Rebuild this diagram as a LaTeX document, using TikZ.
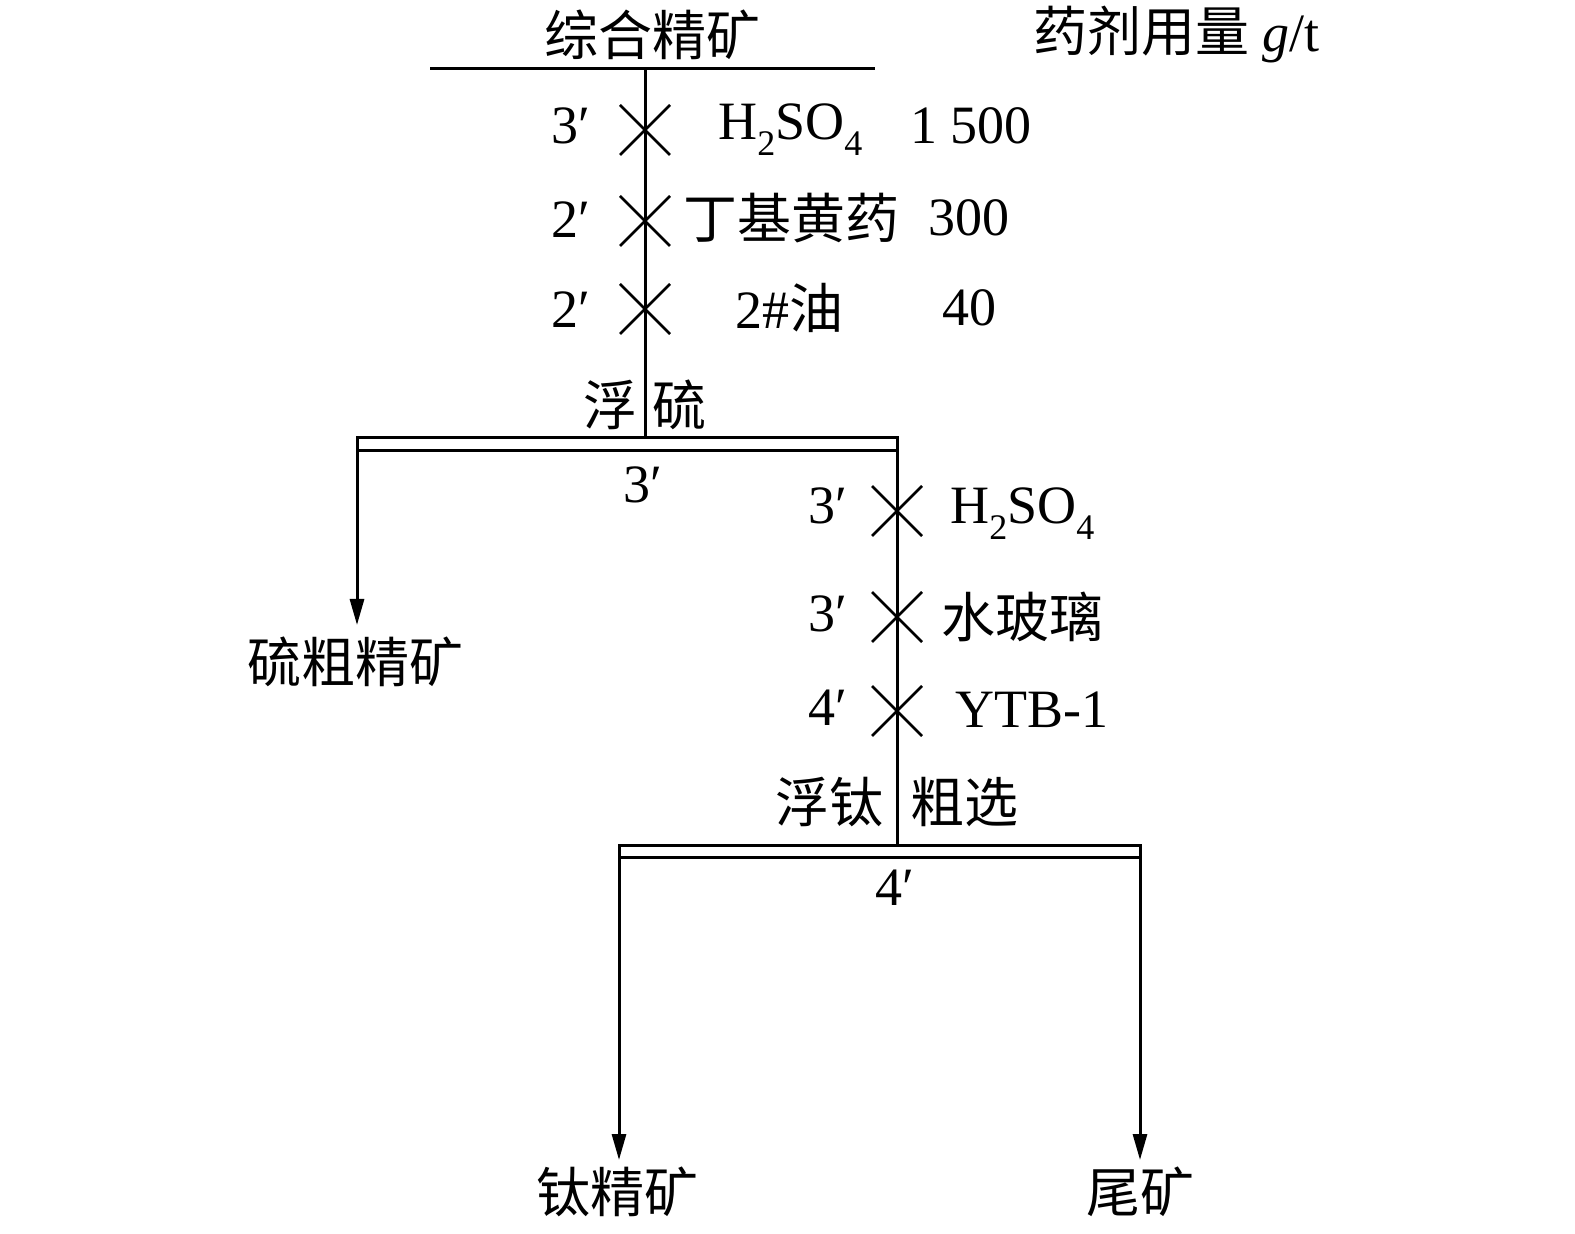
\documentclass[tikz,border=0pt]{standalone}
\usepackage{fontspec}
\setmainfont{Liberation Serif}
\newfontfamily\cjk{Noto Sans CJK SC}
\usetikzlibrary{arrows.meta,calc}
\newcommand\zh[1]{{\cjk #1}}
\newcommand\sbs[1]{\raisebox{-0.3em}{\fontsize{18pt}{18pt}\selectfont #1}}
\newcommand\hso{H\sbs{2}SO\sbs{4}}
\tikzset{
  lbl/.style={inner sep=0pt, font=\fontsize{27pt}{30pt}\selectfont},
  cn/.style={lbl, font=\cjk\fontsize{27pt}{30pt}\selectfont},
  flow/.style={line width=1.5pt},
  arr/.style={flow, -{Triangle[length=13pt,width=7pt]}},
  xmark/.style={line width=1.3pt}
}
\begin{document}
\begin{tikzpicture}[x=0.5pt,y=-0.5pt]
\useasboundingbox (0,0) rectangle (1575,1234);
% feed
\node[cn] (feed) at (652,35) {综合精矿};
\node[lbl, anchor=west] (reag) at (1033,35) {\zh{药剂用量} \textit{g}/t};
\coordinate (tl) at (430,69);
\coordinate (tr) at (875,69);
\coordinate (top) at (645,69);
\draw[flow] (tl) -- (tr);
% sulfur flotation bar
\coordinate (b1tl) at (357,438);
\coordinate (b1br) at (897,451);
\coordinate (b1top) at (645,438);
\draw[flow] (top) -- (b1top);
\draw[flow] (b1tl) rectangle (b1br);
% reagent additions 1
\foreach \n/\y in {xa/130, xb/221, xc/309}{
  \coordinate (\n) at (645,\y);
  \draw[xmark] ($(\n)+(-25,-25)$) -- ($(\n)+(25,25)$);
  \draw[xmark] ($(\n)+(-25,25)$) -- ($(\n)+(25,-25)$);
}
\node[lbl] (ta) at (571,126) {3′};
\node[lbl] (tb) at (571,220) {2′};
\node[lbl] (tc) at (571,310) {2′};
\node[lbl, anchor=west] (ra) at (718,130) {\hso};
\node[lbl, anchor=west] (qa) at (910,126) {1 500};
\node[cn, anchor=west] (rb) at (683,218) {丁基黄药};
\node[lbl, anchor=west] (qb) at (928,218) {300};
\node[lbl, anchor=west] (rc) at (735,308) {2\#\zh{油}};
\node[lbl, anchor=west] (qc) at (942,308) {40};
\node[cn] (fl1) at (610,405) {浮};
\node[cn] (fl2) at (679,405) {硫};
\node[lbl] (t1) at (643,485) {3′};
% left branch
\coordinate (b1l) at (357,451);
\node[cn] (sconc) at (355,662) {硫粗精矿};
\draw[arr] (b1l) -- (357,625);
% right branch
\coordinate (b1r) at (897,438);
\coordinate (b2top) at (897,846);
\draw[flow] (b1r) -- (b2top);
\foreach \n/\y in {xd/511, xe/617, xf/711}{
  \coordinate (\n) at (897,\y);
  \draw[xmark] ($(\n)+(-25,-25)$) -- ($(\n)+(25,25)$);
  \draw[xmark] ($(\n)+(-25,25)$) -- ($(\n)+(25,-25)$);
}
\node[lbl] (td) at (828,506) {3′};
\node[lbl] (te) at (828,614) {3′};
\node[lbl] (tf) at (828,708) {4′};
\node[lbl, anchor=west] (rd) at (950,514) {\hso};
\node[cn, anchor=west] (re) at (941,617) {水玻璃};
\node[lbl, anchor=west] (rf) at (955,710) {YTB-1};
\node[cn] (fl3) at (829,802) {浮钛};
\node[cn] (fl4) at (964,802) {粗选};
% titanium bar
\coordinate (b2tl) at (619,846);
\coordinate (b2br) at (1140,858);
\draw[flow] (b2tl) rectangle (b2br);
\node[lbl] (t2) at (895,888) {4′};
\coordinate (b2l) at (619,858);
\coordinate (b2r) at (1140,858);
\node[cn] (ticonc) at (617,1192) {钛精矿};
\node[cn] (tail) at (1140,1192) {尾矿};
\draw[arr] (b2l) -- (619,1160);
\draw[arr] (b2r) -- (1140,1160);
\end{tikzpicture}
\end{document}
